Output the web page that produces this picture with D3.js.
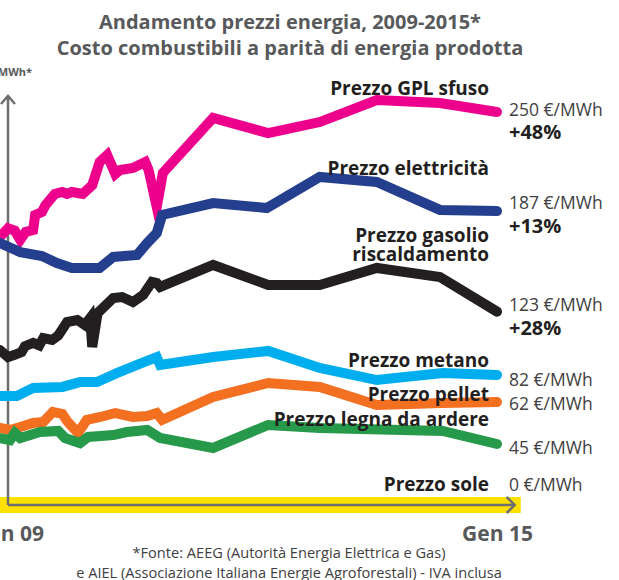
<!DOCTYPE html>
<html>
<head>
<meta charset="utf-8">
<script src="https://cdn.jsdelivr.net/npm/d3@7"></script>
<style>
  html, body { margin: 0; padding: 0; background: #fff; }
  svg { display: block; font-family: "Open Sans", "Noto Sans", sans-serif; }
</style>
</head>
<body>
<svg id="chart" width="619" height="580"></svg>
<script>
// ---------- DATA (months from Gen 2009, €/MWh) ----------
const asseMesi = [0, 72];
const asseEtichette = ["Gen 09", "Gen 15"];

const gplMesi   = [-1.2, 0, 1.0, 1.8, 2.6, 3.7, 4.0, 5.0, 5.5, 6.9, 8.0, 8.7, 9.4, 11.0, 12.4, 13.5, 14.6, 15.8, 16.5, 18.4, 20.2, 20.7, 21.9, 22.8, 30.2, 38.3, 45.9, 54.3, 63.6, 72];
const gplValori = [170.5, 176.0, 174.5, 168.6, 173.7, 174.9, 184.5, 186.4, 190.7, 197.9, 199.1, 197.9, 199.1, 197.9, 203.5, 218.2, 222.6, 210.5, 213.1, 214.4, 218.2, 213.1, 189.6, 211.2, 246.2, 236.6, 243.6, 257.6, 255.7, 250];

const elettMesi   = [-1.2, 1.8, 5.0, 7.2, 9.4, 13.5, 15.5, 19.0, 20.5, 21.9, 22.7, 30.2, 38.1, 45.9, 54.3, 63.6, 72];
const elettValori = [166.7, 160.9, 158.4, 153.9, 150.8, 150.8, 157.8, 159.0, 166.7, 173.0, 184.5, 192.1, 188.9, 208.7, 205.5, 187.7, 187];

const gasolioMesi   = [-1.2, 0, 1.0, 2.0, 2.5, 3.7, 4.6, 5.2, 6.5, 7.4, 8.7, 10.2, 11.3, 12.1, 12.4, 13.2, 15.5, 16.8, 18.4, 19.9, 21.2, 21.9, 22.4, 30.2, 38.3, 45.9, 54.3, 63.6, 72];
const gasolioValori = [98.6, 94.1, 95.5, 97.3, 101.0, 103.1, 101.5, 106.2, 105.0, 107.8, 116.4, 117.7, 114.5, 119.0, 100.5, 122.1, 131.7, 132.3, 129.1, 133.6, 141.9, 141.2, 138.7, 152.7, 140.0, 140.0, 150.8, 145.0, 123];

const metanoMesi   = [-1.2, 1.3, 3.7, 8.0, 10.6, 13.1, 16.1, 19.0, 21.9, 22.4, 30.2, 38.3, 45.9, 54.3, 64.0, 72];
const metanoValori = [69.3, 69.3, 74.4, 75.1, 78.2, 78.2, 84.0, 89.1, 94.1, 89.1, 94.1, 98.0, 87.2, 79.5, 84.0, 82.7];

const pelletMesi   = [-1.2, 0.3, 1.8, 3.7, 5.2, 6.6, 8.0, 8.8, 10.3, 11.6, 13.6, 15.8, 18.4, 20.5, 21.9, 22.7, 30.2, 38.3, 45.9, 54.3, 64.0, 72];
const pelletValori = [49.0, 47.7, 49.6, 52.2, 52.8, 59.2, 57.9, 52.8, 45.8, 54.1, 56.0, 58.5, 56.0, 56.6, 58.5, 54.1, 68.7, 77.6, 75.1, 63.6, 64.9, 65.5];

const legnaMesi   = [-1.2, 0.3, 1.0, 1.8, 4.7, 7.4, 8.4, 10.6, 11.8, 15.5, 17.5, 20.5, 22.4, 30.2, 38.3, 45.9, 64.0, 72];
const legnaValori = [42.6, 41.3, 45.8, 42.6, 46.4, 47.1, 42.6, 39.4, 43.3, 44.5, 46.4, 47.7, 42.6, 36.3, 50.9, 49.0, 47.1, 38.8];

const soleMesi   = [-1.5, 75.5];
const soleValori = [0, 0];

const nomiSerie   = ["Prezzo GPL sfuso", "Prezzo elettricità", "Prezzo gasolio|riscaldamento", "Prezzo metano", "Prezzo pellet", "Prezzo legna da ardere", "Prezzo sole"];
const valoriFinali = ["250 €/MWh", "187 €/MWh", "123 €/MWh", "82 €/MWh", "62 €/MWh", "45 €/MWh", "0 €/MWh"];
const variazioni   = ["+48%", "+13%", "+28%", "", "", "", ""];

const titolo = ["Andamento prezzi energia, 2009-2015*", "Costo combustibili a parità di energia prodotta"];
const unita = "€/MWh*";
const fonte = ["*Fonte: AEEG (Autorità Energia Elettrica e Gas)", "e AIEL (Associazione Italiana Energie Agroforestali) - IVA inclusa"];

// ---------- LAYOUT ----------
const colori = ["#ec008c", "#253f8f", "#231f20", "#00aeef", "#f37021", "#26994a", "#ffe100"];
const serie = [
  [gplMesi, gplValori], [elettMesi, elettValori], [gasolioMesi, gasolioValori],
  [metanoMesi, metanoValori], [pelletMesi, pelletValori], [legnaMesi, legnaValori]
];
const nomeY   = [[95], [175], [242, 261], [367], [401], [426], [491]];
const finaleY = [116, 209, 311, 386, 410, 454, 491];
const varY    = [139, 233, 335];

const svg = d3.select("#chart");
const x = d3.scaleLinear().domain([0, 72]).range([8, 497]);
const y = d3.scaleLinear().domain([0, 250]).range([505, 112]);
const grigio = "#6d6e71";

// titles
svg.selectAll("text.titolo").data(titolo).join("text")
  .attr("class", "titolo")
  .attr("x", 290).attr("y", (d, i) => 29 + i * 26)
  .attr("text-anchor", "middle")
  .attr("font-size", 20).attr("font-weight", 700)
  .attr("fill", "#58595b")
  .text(d => d);

// sole band
svg.append("path")
  .datum(soleMesi.map((m, i) => ({ m, v: soleValori[i] })))
  .attr("d", d3.line().x(d => x(d.m)).y(d => y(d.v)))
  .attr("fill", "none").attr("stroke", colori[6]).attr("stroke-width", 16);

// axes lines
svg.append("line").attr("x1", x(0)).attr("x2", x(0)).attr("y1", y(0)).attr("y2", 97)
  .attr("stroke", grigio).attr("stroke-width", 2.5);
svg.append("line").attr("x1", x(0)).attr("x2", x(74.6)).attr("y1", y(0)).attr("y2", y(0))
  .attr("stroke", grigio).attr("stroke-width", 2.5);
svg.append("path")
  .attr("d", `M${x(74.6) - 8},${y(0) - 8} L${x(74.6)},${y(0)} L${x(74.6) - 8},${y(0) + 8}`)
  .attr("fill", "none").attr("stroke", grigio).attr("stroke-width", 2.5);
svg.append("path")
  .attr("d", `M${x(0) - 7},104 L${x(0)},96 L${x(0) + 7},104`)
  .attr("fill", "none").attr("stroke", grigio).attr("stroke-width", 2.5);

svg.append("text").attr("x", 32).attr("y", 76).attr("text-anchor", "end")
  .attr("font-size", 11).attr("font-weight", 700).attr("fill", "#58595b").text(unita);

// x axis labels through d3 axis
const asse = d3.axisBottom(x).tickValues(asseMesi).tickSize(0)
  .tickFormat((d, i) => asseEtichette[i]);
const gAsse = svg.append("g").attr("transform", `translate(0, ${y(0) + 18})`).call(asse);
gAsse.select(".domain").remove();
gAsse.selectAll("text").attr("font-size", 21).attr("font-weight", 700)
  .attr("fill", "#58595b").attr("font-family", "'Open Sans', sans-serif");

// lines
const linea = d3.line().x(d => x(d.m)).y(d => y(d.v));
serie.forEach(([mesi, valori], k) => {
  svg.append("path")
    .datum(mesi.map((m, i) => ({ m, v: valori[i] })))
    .attr("d", linea)
    .attr("fill", "none").attr("stroke", colori[k])
    .attr("stroke-width", 10)
    .attr("stroke-linecap", "round")
    .attr("stroke-linejoin", "miter").attr("stroke-miterlimit", 6);
});

// series names
nomiSerie.forEach((n, k) => {
  n.split("|").forEach((r, j) => {
    svg.append("text").attr("x", 489).attr("y", nomeY[k][j])
      .attr("text-anchor", "end").attr("font-size", 19).attr("font-weight", 700)
      .attr("fill", "#231f20").text(r);
  });
});

// end values
valoriFinali.forEach((v, k) => {
  svg.append("text").attr("x", 509).attr("y", finaleY[k])
    .attr("font-size", 17.5).attr("fill", "#414042").text(v);
});
variazioni.forEach((v, k) => {
  if (!v) return;
  svg.append("text").attr("x", 509).attr("y", varY[k])
    .attr("font-size", 20).attr("font-weight", 700).attr("fill", "#231f20").text(v);
});

// source
svg.selectAll("text.fonte").data(fonte).join("text")
  .attr("class", "fonte")
  .attr("x", 289).attr("y", (d, i) => 558 + i * 20)
  .attr("text-anchor", "middle")
  .attr("font-size", 14.6).attr("fill", "#414042")
  .text(d => d);
</script>
</body>
</html>
